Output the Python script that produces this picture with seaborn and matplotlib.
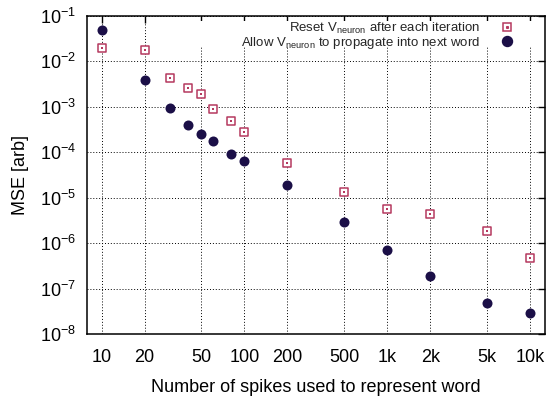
import matplotlib
matplotlib.use("Agg")
import matplotlib.pyplot as plt
from matplotlib.lines import Line2D
from matplotlib.patches import Rectangle
from matplotlib.legend_handler import HandlerTuple
import matplotlib.ticker as mticker
import seaborn as sns
import pandas as pd

spikes = [10, 20, 30, 40, 50, 60, 80, 100, 200, 500, 1000, 2000, 5000, 10000]
mse_reset = [1.95e-2, 1.78e-2, 4.25e-3, 2.56e-3, 1.95e-3, 9.0e-4, 4.96e-4, 2.84e-4,
             5.7e-5, 1.32e-5, 5.56e-6, 4.46e-6, 1.82e-6, 4.6e-7]
mse_propagate = [4.9e-2, 3.84e-3, 9.6e-4, 4.0e-4, 2.57e-4, 1.8e-4, 9.3e-5, 6.45e-5,
                 1.87e-5, 2.92e-6, 7.07e-7, 1.92e-7, 4.82e-8, 2.88e-8]

x_ticks = [10, 20, 50, 100, 200, 500, 1000, 2000, 5000, 10000]
x_tick_labels = ["10", "20", "50", "100", "200", "500", "1k", "2k", "5k", "10k"]
y_exponents = [-8, -7, -6, -5, -4, -3, -2, -1]

label_reset = r"Reset V$_{\mathregular{neuron}}$ after each iteration"
label_prop = r"Allow V$_{\mathregular{neuron}}$ to propagate into next word"

reset_color = "#b5395f"
prop_color = "#1b0f47"

sns.set_theme(style="white")
plt.rcParams["font.family"] = ["Liberation Sans", "DejaVu Sans"]
plt.rcParams["mathtext.fontset"] = "custom"
plt.rcParams["mathtext.rm"] = "Liberation Sans"
plt.rcParams["mathtext.it"] = "Liberation Sans:italic"

df = pd.DataFrame({"spikes": spikes, "reset": mse_reset, "prop": mse_propagate})

fig = plt.figure(figsize=(5.49, 3.98), dpi=100)
ax = fig.add_axes([0.1585, 0.1608, 0.8342, 0.799])

sns.scatterplot(data=df, x="spikes", y="prop", ax=ax, marker="o", s=52,
                color=prop_color, edgecolor=prop_color, linewidth=0, zorder=3)
sns.scatterplot(data=df, x="spikes", y="reset", ax=ax, marker="s", s=34,
                facecolor="white", edgecolor=reset_color, linewidth=1.1, zorder=3)
sns.scatterplot(data=df, x="spikes", y="reset", ax=ax, marker="s", s=1.5,
                color=reset_color, edgecolor=reset_color, linewidth=0, zorder=4)

ax.set_xscale("log")
ax.set_yscale("log")
ax.set_xlim(7.9, 12700)
ax.set_ylim(1e-8, 1e-1)

ax.set_xticks(x_ticks)
ax.set_xticklabels(x_tick_labels)
ax.xaxis.set_minor_locator(mticker.NullLocator())
ax.set_yticks([10.0 ** e for e in y_exponents])
ax.set_yticklabels([r"$\mathregular{10^{%d}}$" % e for e in y_exponents])
ax.yaxis.set_minor_locator(mticker.NullLocator())

ax.tick_params(axis="both", which="major", direction="in", length=5, width=1,
               color="black", labelsize=13, top=True, right=True,
               labelcolor="black")
ax.tick_params(axis="x", pad=10.5)
ax.tick_params(axis="y", pad=8)
for sp in ax.spines.values():
    sp.set_color("black")
    sp.set_linewidth(1.1)

ax.grid(True, which="major", color="black", linestyle=(0, (1, 2)), linewidth=0.7)
ax.set_axisbelow(True)

# blank key area in the top-right corner (grid hidden behind the key)
ax.add_patch(Rectangle((0.192, 0.901), 0.808, 0.0825, transform=ax.transAxes,
                       facecolor="white", edgecolor="none", zorder=1))

ax.set_xlabel("Number of spikes used to represent word", fontsize=13, color="black", labelpad=10)
ax.set_ylabel("MSE [arb]", fontsize=13, color="black", labelpad=8)

h_reset = (Line2D([], [], linestyle="", marker="s", markersize=5.8, markerfacecolor="white",
                  markeredgecolor=reset_color, markeredgewidth=1.1),
           Line2D([], [], linestyle="", marker="s", markersize=1.2, color=reset_color))
h_prop = Line2D([], [], linestyle="", marker="o", markersize=7.2, color=prop_color)
leg = ax.legend([h_reset, h_prop], [label_reset, label_prop],
                handler_map={tuple: HandlerTuple(ndivide=1, pad=0)},
                loc="upper right", bbox_to_anchor=(0.931, 0.985), frameon=False,
                markerfirst=False, fontsize=9.5, handlelength=1.0, handletextpad=1.56,
                labelspacing=-0.08, borderpad=0.0, borderaxespad=0.0)
for t in leg.get_texts():
    t.set_ha("right")
leg._legend_box.align = "right"

fig.savefig("out.png", dpi=100)
